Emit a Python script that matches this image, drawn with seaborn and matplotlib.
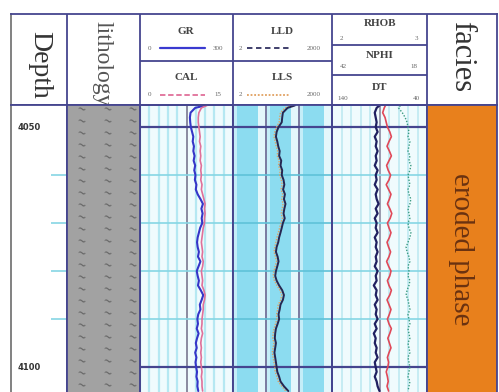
import numpy as np
import pandas as pd
import seaborn as sns
import matplotlib.pyplot as plt

sns.set_style("white")
plt.rcParams['font.family'] = ['Liberation Serif', 'DejaVu Serif']

# well log readings, 1 m steps
depth = [4045.5, 4046, 4047, 4048, 4049, 4050, 4051, 4052, 4053, 4054, 4055, 4056,
         4057, 4058, 4059, 4060, 4061, 4062, 4063, 4064, 4065, 4066, 4067, 4068,
         4069, 4070, 4071, 4072, 4073, 4074, 4075, 4076, 4077, 4078, 4079, 4080,
         4081, 4082, 4083, 4084, 4085, 4086, 4087, 4088, 4089, 4090, 4091, 4092,
         4093, 4094, 4095, 4096, 4097, 4098, 4099, 4100, 4101, 4102, 4103, 4104, 4105]
gr = [210, 178, 163, 161, 162, 164, 168, 172, 170, 174, 172, 176,
      173, 178, 175, 179, 177, 182, 180, 186, 195, 203, 198, 202,
      199, 201, 194, 190, 186, 184, 186, 190, 187, 195, 189, 183,
      186, 190, 187, 196, 204, 199, 193, 195, 188, 185, 187, 183,
      189, 184, 180, 183, 178, 182, 179, 181, 184, 182, 186, 185, 188]
cal = [10.8, 9.9, 9.5, 9.4, 9.4, 9.5, 9.6, 9.7, 9.6, 9.8, 9.7, 9.8,
       9.7, 9.9, 9.8, 9.9, 9.8, 10.0, 9.9, 10.1, 10.3, 10.5, 10.4, 10.5,
       10.4, 10.4, 10.2, 10.1, 10.0, 9.9, 10.0, 10.1, 10.0, 10.2, 10.1, 9.9,
       10.0, 10.1, 10.0, 10.3, 10.5, 10.4, 10.2, 10.2, 10.1, 10.0, 10.0, 9.9,
       10.1, 9.9, 9.8, 9.9, 9.8, 9.9, 9.8, 9.9, 10.0, 9.9, 10.0, 10.0, 10.1]
lld = [150, 90, 65, 62, 60, 48, 42, 40, 44, 47, 52, 50,
       58, 55, 62, 60, 68, 72, 66, 75, 70, 78, 72, 68,
       74, 65, 60, 55, 50, 47, 42, 40, 45, 48, 44, 40,
       38, 42, 50, 62, 70, 65, 55, 52, 48, 50, 45, 40,
       38, 37, 40, 38, 36, 38, 40, 42, 44, 50, 55, 70, 95]
lls = [120, 75, 55, 52, 50, 42, 37, 35, 38, 41, 45, 44,
       50, 48, 54, 52, 58, 62, 57, 64, 60, 66, 62, 58,
       63, 56, 52, 47, 43, 40, 37, 35, 39, 42, 38, 35,
       33, 36, 43, 53, 60, 56, 47, 45, 42, 43, 39, 35,
       33, 32, 35, 33, 31, 33, 35, 37, 38, 43, 47, 60, 80]
rhob = [2.50, 2.47, 2.45, 2.46, 2.47, 2.46, 2.48, 2.45, 2.47, 2.46, 2.48, 2.46,
        2.47, 2.45, 2.48, 2.46, 2.47, 2.45, 2.48, 2.46, 2.47, 2.49, 2.46, 2.48,
        2.45, 2.47, 2.46, 2.48, 2.45, 2.47, 2.46, 2.48, 2.46, 2.47, 2.45, 2.48,
        2.46, 2.47, 2.44, 2.47, 2.46, 2.48, 2.45, 2.47, 2.46, 2.48, 2.45, 2.47,
        2.44, 2.46, 2.45, 2.47, 2.46, 2.48, 2.45, 2.46, 2.47, 2.45, 2.47, 2.48, 2.50]
nphi = [28.5, 28.8, 29.2, 28.6, 28.3, 28.0, 27.4, 27.0, 27.6, 28.1, 27.5, 27.0,
        27.6, 28.2, 27.8, 27.2, 27.6, 28.3, 27.7, 27.1, 27.5, 28.0, 27.4, 26.9,
        27.3, 28.0, 27.6, 27.1, 27.5, 28.1, 27.7, 27.2, 27.6, 28.2, 27.7, 27.1,
        27.4, 28.0, 27.6, 27.0, 27.4, 28.1, 27.6, 27.1, 27.5, 28.0, 27.6, 27.0,
        27.4, 27.9, 27.5, 27.1, 27.6, 28.0, 27.7, 27.9, 28.3, 28.0, 27.8, 28.1, 27.7]
dt = [68, 70, 66, 63, 61, 60, 59, 60, 58, 59, 60, 58,
      59, 57, 58, 60, 59, 58, 60, 59, 57, 58, 60, 59,
      58, 60, 59, 57, 58, 60, 62, 61, 59, 58, 60, 59,
      60, 58, 59, 61, 62, 60, 59, 58, 60, 59, 58, 60,
      59, 58, 60, 59, 58, 60, 59, 58, 59, 60, 58, 59, 60]
depth_labels = [4050, 4100]
minor_depths = [4060, 4070, 4080, 4090]
facies_label = "eroded phase"

df = pd.DataFrame({"depth": depth, "GR": gr, "CAL": cal, "LLD": lld, "LLS": lls,
                   "RHOB": rhob, "NPHI": nphi, "DT": dt})

W, H = 499, 392
NAVY = '#45458f'
CYAN = '#86d6e4'
fig = plt.figure(figsize=(W / 100, H / 100), dpi=100)


def add(x0, x1, y0, y1):
    return fig.add_axes([x0 / W, 1 - y1 / H, (x1 - x0) / W, (y1 - y0) / H])


def frame(ax, left=NAVY):
    ax.set_xticks([])
    ax.set_yticks([])
    for s in ['top', 'right']:
        ax.spines[s].set_color(NAVY)
        ax.spines[s].set_linewidth(1.3)
    ax.spines['left'].set_color(left)
    ax.spines['left'].set_linewidth(1.3)
    ax.spines['bottom'].set_visible(False)


top_d, bot_d = 4045.4, 4105.2

# ---- header ----
hd = add(11, 497, 14, 105)
hd.set_xlim(11, 497)
hd.set_ylim(105, 14)
hd.set_xticks([])
hd.set_yticks([])
for s in hd.spines.values():
    s.set_color(NAVY)
    s.set_linewidth(1.3)
hd.spines['left'].set_color('#777777')
for x in [67, 140, 233, 332, 427]:
    hd.axvline(x, color=NAVY, lw=1.3)
hd.hlines(61, 140, 332, color=NAVY, lw=1.3)
hd.hlines([45, 75], 332, 427, color=NAVY, lw=1.3)

hd.text(40, 65, "Depth", rotation=-90, ha='center', va='center', fontsize=20, color='#333333')
hd.text(102, 21, "lithology", rotation=-90, ha='center', va='top', fontsize=17,
        color='#555555', clip_on=True)
hd.text(462, 57, "facies", rotation=-90, ha='center', va='center', fontsize=22, color='#333333')

small = dict(fontsize=5, color='#666666', va='center')
lab = dict(fontsize=8, fontweight='bold', color='#444444', ha='center', va='center')
hd.text(186, 32, "GR", **lab)
hd.text(150, 48, "0", ha='center', **small)
hd.plot([160, 205], [48, 48], color='#3a3ad0', lw=1.6)
hd.text(218, 48, "300", ha='center', **small)
hd.text(186, 78, "CAL", **lab)
hd.text(150, 95, "0", ha='center', **small)
hd.plot([160, 205], [95, 95], color='#e0709a', lw=1.3, ls=(0, (3, 1.5)))
hd.text(218, 95, "15", ha='center', **small)
hd.text(282, 32, "LLD", **lab)
hd.text(240, 48, "2", ha='center', **small)
hd.plot([247, 290], [48, 48], color='#303060', lw=1.3, ls=(0, (3, 2)))
hd.text(314, 48, "2000", ha='center', **small)
hd.text(282, 78, "LLS", **lab)
hd.text(240, 95, "2", ha='center', **small)
hd.plot([247, 290], [95, 95], color='#e0a060', lw=1.3, ls=(0, (1, 1)))
hd.text(314, 95, "2000", ha='center', **small)
hd.text(380, 24, "RHOB", **lab)
hd.text(341, 38, "2", ha='center', **small)
hd.text(416, 38, "3", ha='center', **small)
hd.text(380, 55, "NPHI", **lab)
hd.text(343, 67, "42", ha='center', **small)
hd.text(414, 67, "18", ha='center', **small)
hd.text(380, 87, "DT", **lab)
hd.text(343, 98, "140", ha='center', **small)
hd.text(416, 98, "40", ha='center', **small)

# ---- depth column ----
ad = add(11, 67, 105, 392)
ad.set_ylim(bot_d, top_d)
ad.set_xlim(0, 1)
ad.set_facecolor('white')
frame(ad, left='#777777')
ad.hlines(minor_depths, 0.72, 1.0, color=CYAN, lw=1.2)
for d in depth_labels:
    ad.text(0.32, d, str(d), fontsize=6, fontweight='bold', color='#333333',
            ha='center', va='center', family='DejaVu Sans')

# ---- lithology ----
al = add(67, 140, 105, 392)
al.set_ylim(bot_d, top_d)
al.set_xlim(0, 1)
al.set_facecolor('#a2a2a2')
frame(al)
for d in np.arange(4046.5, 4105.5, 2.5):
    for xx in [0.19, 0.55, 0.89]:
        al.text(xx, d, "~", fontsize=8, color='#585858', ha='center', va='center',
                rotation=-15, family='DejaVu Sans')

# ---- GR / CAL ----
ag = add(140, 233, 105, 392)
ag.set_ylim(bot_d, top_d)
ag.set_xlim(0, 300)
ag.set_facecolor('#effbfd')
for x in range(0, 301, 30):
    ag.axvline(x, color='#8a8aa0' if x == 150 else '#b5e8f2', lw=1.4 if x == 150 else 1.6)
ag.hlines(minor_depths, 0, 300, color=CYAN, lw=1.2)
ag.hlines(depth_labels, 0, 300, color=NAVY, lw=1.6)
ac = ag.twiny()
ac.set_xlim(0, 15)
sns.lineplot(data=df, x="CAL", y="depth", orient='y', estimator=None, ax=ac,
             color='#e0709a', lw=1.2)
sns.lineplot(data=df, x="GR", y="depth", orient='y', estimator=None, ax=ag,
             color='#3535c8', lw=1.5)
ag.set_ylim(bot_d, top_d)
for a in [ag, ac]:
    frame(a)
    a.set_xlabel('')
    a.set_ylabel('')

# ---- LLD / LLS ----
ar = add(233, 332, 105, 392)
ar.set_xscale('log')
ar.set_xlim(2, 2000)
ar.set_ylim(bot_d, top_d)
ar.set_facecolor('#e4f7fb')
for dec in [2, 20, 200]:
    ar.axvspan(dec * 1.3, dec * 5.7, color='#8cdcf0', lw=0)
    ar.axvspan(dec * 1.05, dec * 1.3, color='#c4eef8', lw=0)
    ar.axvline(dec, color='#7a7aa0', lw=1.4)
ar.hlines(minor_depths, 2, 2000, color='#5fc2d8', lw=1.2)
ar.hlines(depth_labels, 2, 2000, color=NAVY, lw=1.6)
sns.lineplot(data=df, x="LLS", y="depth", orient='y', estimator=None, ax=ar,
             color='#e0a060', lw=1.0, ls=(0, (1, 1)))
sns.lineplot(data=df, x="LLD", y="depth", orient='y', estimator=None, ax=ar,
             color='#262650', lw=1.4)
ar.set_ylim(bot_d, top_d)
frame(ar)
ar.set_xlabel('')
ar.set_ylabel('')

# ---- RHOB / NPHI / DT ----
ah = add(332, 427, 105, 392)
ah.set_xlim(2, 3)
ah.set_ylim(bot_d, top_d)
ah.set_facecolor('#f0fbfd')
for x in np.linspace(2, 3, 11):
    ah.axvline(x, color='#8a8aa0' if abs(x - 2.5) < 1e-6 else '#bfe9f2', lw=1.2)
ah.hlines(minor_depths, 2, 3, color=CYAN, lw=1.2)
ah.hlines(depth_labels, 2, 3, color=NAVY, lw=1.6)
an = ah.twiny()
an.set_xlim(42, 18)
at = ah.twiny()
at.set_xlim(140, 40)
sns.lineplot(data=df, x="DT", y="depth", orient='y', estimator=None, ax=at,
             color='#3a9a80', lw=1.0, ls=(0, (1, 1.2)))
sns.lineplot(data=df, x="NPHI", y="depth", orient='y', estimator=None, ax=an,
             color='#e04858', lw=1.2)
sns.lineplot(data=df, x="RHOB", y="depth", orient='y', estimator=None, ax=ah,
             color='#202060', lw=1.6)
ah.set_ylim(bot_d, top_d)
for a in [ah, an, at]:
    frame(a)
    a.set_xlabel('')
    a.set_ylabel('')

# ---- facies ----
af = add(427, 497, 105, 392)
af.set_xlim(0, 1)
af.set_ylim(bot_d, top_d)
af.axhspan(top_d, bot_d, color='#e8801c', lw=0)
frame(af)
af.text(0.48, 4075.5, facies_label, rotation=-90, ha='center', va='center',
        fontsize=21, color='#6a3210')

fig.savefig("out.png", dpi=100)
